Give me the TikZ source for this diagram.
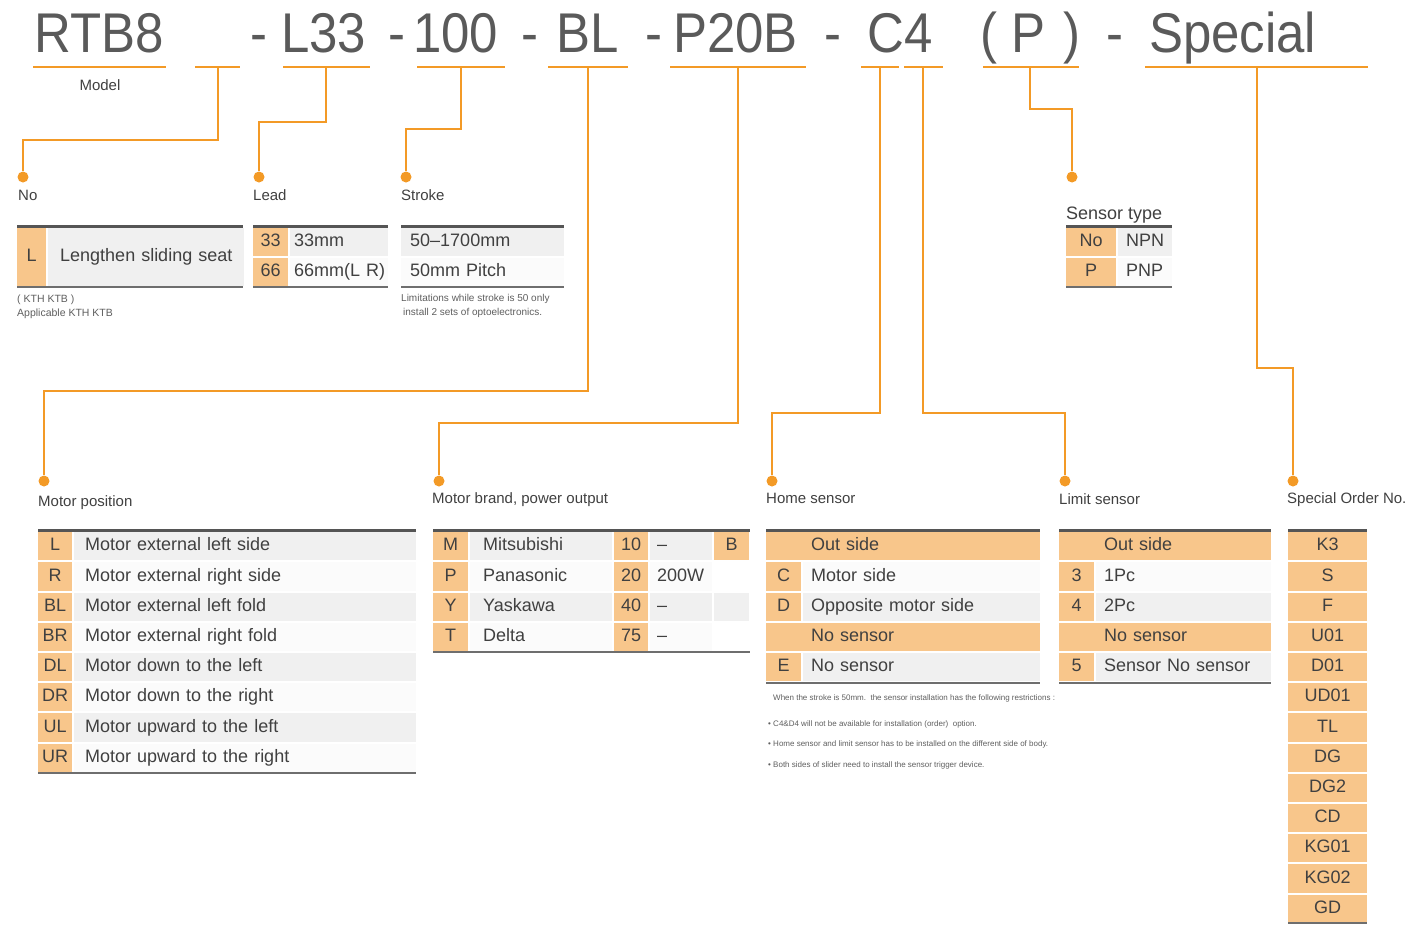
\documentclass[tikz,border=0pt]{standalone}
\usepackage{fontspec}
\setmainfont{Liberation Sans}
\newfontfamily\headfont[FakeStretch=0.91]{Liberation Sans}
\newcommand{\cellfont}{\fontsize{18}{20}\selectfont}
\newcommand{\lblfont}{\fontsize{15}{17}\selectfont}
\usepackage{tikz}

\definecolor{lineorange}{HTML}{F39A26}
\definecolor{cellorange}{HTML}{F8C68B}
\definecolor{cellgray}{HTML}{F0F0F0}
\definecolor{cellwhite}{HTML}{FBFBFB}
\definecolor{headgray}{HTML}{5A5A5A}
\definecolor{txtgray}{HTML}{404040}
\definecolor{notegray}{HTML}{5E5E5E}
\definecolor{rulegray}{HTML}{555555}

\tikzset{
  partcode/.style={anchor=base west, inner sep=0pt, text=headgray, font=\headfont\fontsize{56}{60}\selectfont},
  underbar/.style={draw=lineorange, line width=2.5pt},
  wire/.style={draw=lineorange, line width=2pt},
  knob/.style={circle, fill=lineorange, inner sep=0pt, minimum size=11pt},
  fieldname/.style={anchor=base west, inner sep=0pt, text=txtgray, font=\lblfont},
  remark/.style={anchor=base west, inner sep=0pt, text=notegray},
  keycell/.style={anchor=north west, fill=cellorange, inner sep=0pt, minimum height=28.2pt,
    text height=13pt, text depth=4pt, font=\cellfont, text=txtgray},
  desccell/.style={anchor=north west, fill=cellgray, inner ysep=0pt, minimum height=28.2pt, align=left,
    text height=13pt, text depth=4pt, font=\cellfont, text=txtgray},
  toprule/.style={draw=rulegray, line width=3pt},
  botrule/.style={draw=rulegray!85, line width=2pt},
}

\begin{document}
\begin{tikzpicture}[x=1pt,y=-1pt]
\useasboundingbox (0,0) rectangle (1408,924);

% PART NUMBER
\node[partcode] (mdl) at (34,52) {RTB8};
\node[partcode] (dsh1) at (250,52) {-};
\node[partcode] (lead) at (281,52) {L33};
\node[partcode] (dsh2) at (388,52) {-};
\node[partcode] (strk) at (413,52) {100};
\node[partcode] (dsh3) at (521,52) {-};
\node[partcode] (mpos) at (556,52) {BL};
\node[partcode] (dsh4) at (645,52) {-};
\node[partcode] (brnd) at (673,52) {P20B};
\node[partcode] (dsh5) at (824,52) {-};
\node[partcode] (sens) at (867,52) {C4};
\node[partcode] (lpar) at (980,52) {(};
\node[partcode] (styp) at (1011,52) {P};
\node[partcode] (rpar) at (1063,52) {)};
\node[partcode] (dsh6) at (1106,52) {-};
\node[partcode] (spcl) at (1149,52) {Special};

\draw[underbar] (33,67) -- (166,67);
\draw[underbar] (195,67) -- (240,67);
\draw[underbar] (283,67) -- (370,67);
\draw[underbar] (417,67) -- (505,67);
\draw[underbar] (548,67) -- (628,67);
\draw[underbar] (670,67) -- (806,67);
\draw[underbar] (861,67) -- (899,67);
\draw[underbar] (904,67) -- (943,67);
\draw[underbar] (983,67) -- (1079,67);
\draw[underbar] (1145,67) -- (1368,67);

\node[fieldname, anchor=base] (mdlname) at (100,90.5) {Model};

% CONNECTORS
\coordinate (tapNo) at (218,67);
\coordinate (tapLead) at (326,67);
\coordinate (tapStroke) at (461,67);
\coordinate (tapPos) at (588,67);
\coordinate (tapBrand) at (738,67);
\coordinate (tapHome) at (880,67);
\coordinate (tapLimit) at (923,67);
\coordinate (tapType) at (1030,67);
\coordinate (tapSpecial) at (1257,67);

\node[knob] (dotNo) at (23,177) {};
\node[knob] (dotLead) at (259,177) {};
\node[knob] (dotStroke) at (406,177) {};
\node[knob] (dotPos) at (44,481) {};
\node[knob] (dotBrand) at (439,481) {};
\node[knob] (dotHome) at (772,481) {};
\node[knob] (dotLimit) at (1065,481) {};
\node[knob] (dotType) at (1072,177) {};
\node[knob] (dotSpecial) at (1293,481) {};

\draw[wire] (tapNo) -- ++(0,73) -| (dotNo);
\draw[wire] (tapLead) -- ++(0,55) -| (dotLead);
\draw[wire] (tapStroke) -- ++(0,62) -| (dotStroke);
\draw[wire] (tapPos) -- ++(0,324) -| (dotPos);
\draw[wire] (tapBrand) -- ++(0,356) -| (dotBrand);
\draw[wire] (tapHome) -- ++(0,346) -| (dotHome);
\draw[wire] (tapLimit) -- ++(0,346) -| (dotLimit);
\draw[wire] (tapType) -- ++(0,42) -| (dotType);
\draw[wire] (tapSpecial) -- ++(0,301) -| (dotSpecial);

% NO
\node[fieldname] (noName) at (18,200.5) {No};
\draw[toprule] (17,226) -- (243,226);
\node[keycell, minimum width=29pt, minimum height=58pt] (noL) at (17,228) {L};
\node[desccell, text width=172pt, inner xsep=12pt, minimum height=58pt] (noLtxt) at (48,228) {\mbox{Lengthen sliding seat}};
\draw[botrule] (17,287) -- (243,287);
\node[remark, font=\fontsize{10.5}{12}\selectfont] (noRem1) at (17,302) {( KTH KTB )};
\node[remark, font=\fontsize{10.5}{12}\selectfont] (noRem2) at (17,316) {Applicable KTH KTB};

% LEAD
\node[fieldname] (leadName) at (253,200.5) {Lead};
\draw[toprule] (253,226) -- (388,226);
\node[keycell, minimum width=35pt, minimum height=28pt] (ld33) at (253,228) {33};
\node[desccell, text width=90pt, inner xsep=4pt, minimum height=28pt] (ld33txt) at (290,228) {33mm};
\node[keycell, minimum width=35pt, minimum height=28pt] (ld66) at (253,258) {66};
\node[desccell, fill=cellwhite, text width=90pt, inner xsep=4pt, minimum height=28pt] (ld66txt) at (290,258) {\mbox{66mm(L R)}};
\draw[botrule] (253,287) -- (388,287);

% STROKE
\node[fieldname] (strkName) at (401,200) {Stroke};
\draw[toprule] (401,226) -- (564,226);
\node[desccell, text width=145pt, inner xsep=9pt, minimum height=28pt] (stRange) at (401,228) {50\textendash1700mm};
\node[desccell, fill=cellwhite, text width=145pt, inner xsep=9pt, minimum height=28pt] (stPitch) at (401,258) {50mm Pitch};
\draw[botrule] (401,287) -- (564,287);
\node[remark, font=\fontsize{10}{12}\selectfont] (stRem1) at (401,301) {Limitations while stroke is 50 only};
\node[remark, font=\fontsize{10}{12}\selectfont] (stRem2) at (403,315) {install 2 sets of optoelectronics.};

% SENSOR TYPE
\node[fieldname, font=\cellfont] (typeName) at (1066,219.5) {Sensor type};
\draw[toprule] (1066,226) -- (1172,226);
\node[keycell, minimum width=50pt, minimum height=28pt] (tyNo) at (1066,228) {No};
\node[desccell, text width=38pt, inner xsep=8pt, minimum height=28pt] (tyNPN) at (1118,228) {NPN};
\node[keycell, minimum width=50pt, minimum height=28pt] (tyP) at (1066,258) {P};
\node[desccell, fill=cellwhite, text width=38pt, inner xsep=8pt, minimum height=28pt] (tyPNP) at (1118,258) {PNP};
\draw[botrule] (1066,287) -- (1172,287);

% MOTOR POSITION
\node[fieldname] (posName) at (38,506.5) {Motor position};
\draw[toprule] (38,530) -- (416,530);
\node[keycell, minimum width=34pt] (psL) at (38,532) {L};
\node[desccell, text width=320pt, inner xsep=11pt] (psLtxt) at (74,532) {Motor external left side};
\node[keycell, minimum width=34pt] (psR) at (38,562.2) {R};
\node[desccell, fill=cellwhite, text width=320pt, inner xsep=11pt] (psRtxt) at (74,562.2) {Motor external right side};
\node[keycell, minimum width=34pt] (psBL) at (38,592.4) {BL};
\node[desccell, text width=320pt, inner xsep=11pt] (psBLtxt) at (74,592.4) {Motor external left fold};
\node[keycell, minimum width=34pt] (psBR) at (38,622.6) {BR};
\node[desccell, fill=cellwhite, text width=320pt, inner xsep=11pt] (psBRtxt) at (74,622.6) {Motor external right fold};
\node[keycell, minimum width=34pt] (psDL) at (38,652.8) {DL};
\node[desccell, text width=320pt, inner xsep=11pt] (psDLtxt) at (74,652.8) {Motor down to the left};
\node[keycell, minimum width=34pt] (psDR) at (38,683) {DR};
\node[desccell, fill=cellwhite, text width=320pt, inner xsep=11pt] (psDRtxt) at (74,683) {Motor down to the right};
\node[keycell, minimum width=34pt] (psUL) at (38,713.2) {UL};
\node[desccell, text width=320pt, inner xsep=11pt] (psULtxt) at (74,713.2) {Motor upward to the left};
\node[keycell, minimum width=34pt] (psUR) at (38,743.4) {UR};
\node[desccell, fill=cellwhite, text width=320pt, inner xsep=11pt] (psURtxt) at (74,743.4) {Motor upward to the right};
\draw[botrule] (38,772.6) -- (416,772.6);

% MOTOR BRAND
\node[fieldname] (brandName) at (432,503.5) {Motor brand, power output};
\draw[toprule] (433,530) -- (750,530);
\node[keycell, minimum width=35pt] (brM) at (433,532) {M};
\node[desccell, text width=116pt, inner xsep=13pt] (brMtxt) at (470,532) {Mitsubishi};
\node[keycell, minimum width=34pt] (pw10) at (614,532) {10};
\node[desccell, text width=48pt, inner xsep=7pt] (pw10txt) at (650,532) {\textendash};
\node[keycell, minimum width=35pt] (brakeB) at (714,532) {B};
\node[keycell, minimum width=35pt] (brP) at (433,562.2) {P};
\node[desccell, fill=cellwhite, text width=116pt, inner xsep=13pt] (brPtxt) at (470,562.2) {Panasonic};
\node[keycell, minimum width=34pt] (pw20) at (614,562.2) {20};
\node[desccell, fill=cellwhite, text width=48pt, inner xsep=7pt] (pw20txt) at (650,562.2) {200W};
\node[keycell, minimum width=35pt] (brY) at (433,592.4) {Y};
\node[desccell, text width=116pt, inner xsep=13pt] (brYtxt) at (470,592.4) {Yaskawa};
\node[keycell, minimum width=34pt] (pw40) at (614,592.4) {40};
\node[desccell, text width=48pt, inner xsep=7pt] (pw40txt) at (650,592.4) {\textendash};
\node[desccell, text width=35pt, inner xsep=0pt] (brakeNone) at (714,592.4) {};
\node[keycell, minimum width=35pt] (brT) at (433,622.6) {T};
\node[desccell, fill=cellwhite, text width=116pt, inner xsep=13pt] (brTtxt) at (470,622.6) {Delta};
\node[keycell, minimum width=34pt] (pw75) at (614,622.6) {75};
\node[desccell, fill=cellwhite, text width=48pt, inner xsep=7pt] (pw75txt) at (650,622.6) {\textendash};
\draw[botrule] (433,652) -- (750,652);

% HOME SENSOR
\node[fieldname] (homeName) at (766,503.5) {Home sensor};
\draw[toprule] (766,530) -- (1040,530);
\node[keycell, minimum width=274pt, align=left, text width=184pt, inner xsep=45pt] (hmOut) at (766,532) {Out side};
\node[keycell, minimum width=35pt] (hmC) at (766,562.2) {C};
\node[desccell, fill=cellwhite, text width=221pt, inner xsep=8pt] (hmCtxt) at (803,562.2) {Motor side};
\node[keycell, minimum width=35pt] (hmD) at (766,592.4) {D};
\node[desccell, text width=221pt, inner xsep=8pt] (hmDtxt) at (803,592.4) {Opposite motor side};
\node[keycell, minimum width=274pt, align=left, text width=184pt, inner xsep=45pt] (hmNone) at (766,622.6) {No sensor};
\node[keycell, minimum width=35pt] (hmE) at (766,652.8) {E};
\node[desccell, text width=221pt, inner xsep=8pt] (hmEtxt) at (803,652.8) {No sensor};
\draw[botrule] (766,682.6) -- (1040,682.6);

\node[remark, font=\fontsize{8}{10}\selectfont] (hmRem) at (773,700) {When the stroke is 50mm.\ \ the sensor installation has the following restrictions :};
\node[remark, font=\fontsize{8}{10}\selectfont] (hmRem1) at (768,726) {\textbullet\ C4\&D4 will not be available for installation (order)\ \ option.};
\node[remark, font=\fontsize{8}{10}\selectfont] (hmRem2) at (768,746) {\textbullet\ Home sensor and limit sensor has to be installed on the different side of body.};
\node[remark, font=\fontsize{8}{10}\selectfont] (hmRem3) at (768,767) {\textbullet\ Both sides of slider need to install the sensor trigger device.};

% LIMIT SENSOR
\node[fieldname] (limName) at (1059,504.5) {Limit sensor};
\draw[toprule] (1059,530) -- (1271,530);
\node[keycell, minimum width=212pt, align=left, text width=122pt, inner xsep=45pt] (lmOut) at (1059,532) {Out side};
\node[keycell, minimum width=35pt] (lm3) at (1059,562.2) {3};
\node[desccell, fill=cellwhite, text width=159pt, inner xsep=8pt] (lm3txt) at (1096,562.2) {1Pc};
\node[keycell, minimum width=35pt] (lm4) at (1059,592.4) {4};
\node[desccell, text width=159pt, inner xsep=8pt] (lm4txt) at (1096,592.4) {2Pc};
\node[keycell, minimum width=212pt, align=left, text width=122pt, inner xsep=45pt] (lmNone) at (1059,622.6) {No sensor};
\node[keycell, minimum width=35pt] (lm5) at (1059,652.8) {5};
\node[desccell, text width=159pt, inner xsep=8pt] (lm5txt) at (1096,652.8) {Sensor No sensor};
\draw[botrule] (1059,682.6) -- (1271,682.6);

% SPECIAL ORDER
\node[fieldname] (spName) at (1287,503.5) {Special Order No.};
\draw[toprule] (1288,530) -- (1367,530);
\node[keycell, minimum width=79pt] (spK3) at (1288,532) {K3};
\node[keycell, minimum width=79pt] (spS) at (1288,562.2) {S};
\node[keycell, minimum width=79pt] (spF) at (1288,592.4) {F};
\node[keycell, minimum width=79pt] (spU01) at (1288,622.6) {U01};
\node[keycell, minimum width=79pt] (spD01) at (1288,652.8) {D01};
\node[keycell, minimum width=79pt] (spUD01) at (1288,683) {UD01};
\node[keycell, minimum width=79pt] (spTL) at (1288,713.2) {TL};
\node[keycell, minimum width=79pt] (spDG) at (1288,743.4) {DG};
\node[keycell, minimum width=79pt] (spDG2) at (1288,773.6) {DG2};
\node[keycell, minimum width=79pt] (spCD) at (1288,803.8) {CD};
\node[keycell, minimum width=79pt] (spKG01) at (1288,834) {KG01};
\node[keycell, minimum width=79pt] (spKG02) at (1288,864.2) {KG02};
\node[keycell, minimum width=79pt] (spGD) at (1288,894.4) {GD};
\draw[botrule] (1288,923.2) -- (1367,923.2);
\end{tikzpicture}
\end{document}
